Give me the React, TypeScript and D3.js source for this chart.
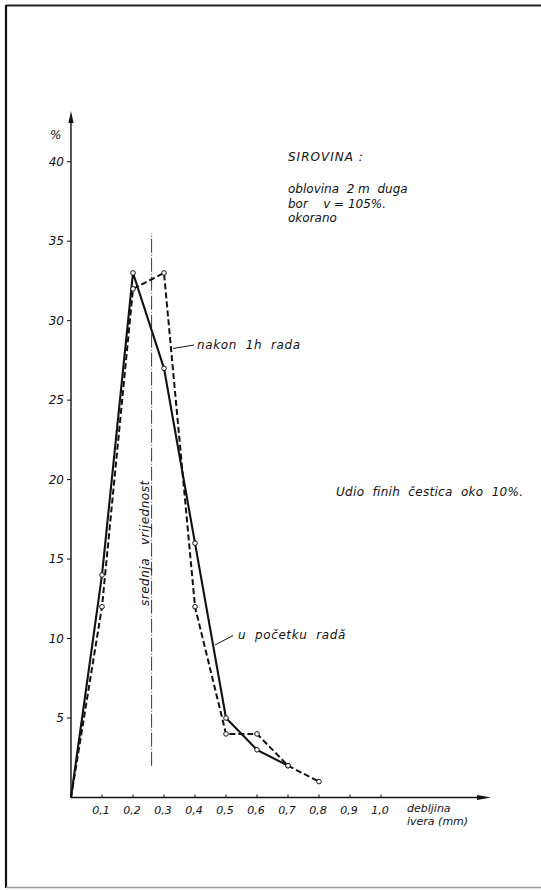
import React from "react";
import * as d3 from "d3";

// debljina ivera (mm) and the share (%) of each fraction
const startThickness = [0, 0.1, 0.2, 0.3, 0.4, 0.5, 0.6, 0.7];
const startShare = [0, 14, 33, 27, 16, 5, 3, 2]; // u početku rada (solid)
const afterThickness = [0, 0.1, 0.2, 0.3, 0.4, 0.5, 0.6, 0.7, 0.8];
const afterShare = [0, 12, 32, 33, 12, 4, 4, 2, 1]; // nakon 1h rada (dashed)

const xTicks = [0.1, 0.2, 0.3, 0.4, 0.5, 0.6, 0.7, 0.8, 0.9, 1.0];
const xTickLabels = ["0,1", "0,2", "0,3", "0,4", "0,5", "0,6", "0,7", "0,8", "0,9", "1,0"];
const yTicks = [5, 10, 15, 20, 25, 30, 35, 40];

const meanThickness = 0.26;
const meanRange = [2, 35.5];

const infoLines = ["oblovina  2 m  duga", "bor    v = 105%.", "okorano"];

const W = 541;
const H = 890;
const font = "'DejaVu Sans', sans-serif";

export default function App() {
  const x = d3.scaleLinear().domain([0, 1]).range([71, 381]);
  const y = d3.scaleLinear().domain([0, 40]).range([797.5, 161.7]);

  const line = d3
    .line<[number, number]>()
    .x((d) => x(d[0]))
    .y((d) => y(d[1]));

  const startPts = startThickness.map((t, i) => [t, startShare[i]] as [number, number]);
  const afterPts = afterThickness.map((t, i) => [t, afterShare[i]] as [number, number]);

  const x0 = x(0);
  const y0 = y(0);
  const yTop = 111;
  const xEnd = 491;

  const txt = {
    fontFamily: font,
    fontStyle: "italic" as const,
    fill: "#111",
    whiteSpace: "pre" as const,
  };

  return (
    <svg
      width={W}
      height={H}
      style={{ position: "absolute", left: 0, top: 0, background: "#fff" }}
    >
      {/* frame */}
      <line x1={6} y1={5.5} x2={W} y2={5.5} stroke="#222" strokeWidth={2} />
      <line x1={6} y1={5} x2={6} y2={888} stroke="#111" strokeWidth={2.2} />
      <line x1={6} y1={887.5} x2={W} y2={887.5} stroke="#999" strokeWidth={1.5} />

      {/* axes */}
      <line x1={x0} y1={y0} x2={x0} y2={yTop + 8} stroke="#111" strokeWidth={1.4} />
      <path d={`M${x0},${yTop} L${x0 - 2.6},${yTop + 12} L${x0 + 2.6},${yTop + 12} Z`} fill="#111" />
      <line x1={x0} y1={y0} x2={xEnd - 8} y2={y0} stroke="#111" strokeWidth={1.6} />
      <path d={`M${xEnd},${y0} L${xEnd - 14},${y0 - 2.6} L${xEnd - 14},${y0 + 2.6} Z`} fill="#111" />

      {yTicks.map((t) => (
        <g key={t}>
          <line x1={x0 - 4} x2={x0} y1={y(t)} y2={y(t)} stroke="#111" strokeWidth={1} />
          <text x={64} y={y(t)} dy="0.36em" textAnchor="end" fontSize={12} style={txt}>
            {t}
          </text>
        </g>
      ))}
      <text x={50} y={139} fontSize={12} style={txt}>
        %
      </text>

      {xTicks.map((t, i) => (
        <g key={t}>
          <line x1={x(t)} x2={x(t)} y1={y0} y2={y0 - 3} stroke="#111" strokeWidth={1} />
          <text x={x(t) - 1} y={814} textAnchor="middle" fontSize={11} style={txt}>
            {xTickLabels[i]}
          </text>
        </g>
      ))}
      <text x={407} y={812} fontSize={11} style={txt}>
        debljina
      </text>
      <text x={407} y={825} fontSize={11} style={txt}>
        ivera (mm)
      </text>

      {/* mean line */}
      <line
        x1={x(meanThickness)}
        x2={x(meanThickness)}
        y1={y(meanRange[0])}
        y2={y(meanRange[1])}
        stroke="#222"
        strokeWidth={0.9}
        strokeDasharray="14,2,1,2"
      />
      <text
        transform={`translate(${x(meanThickness) - 3},${y(16)}) rotate(-90)`}
        textAnchor="middle"
        fontSize={12}
        letterSpacing={0.5}
        style={txt}
      >
        {"srednja   vrijednost"}
      </text>

      {/* series */}
      <path d={line(afterPts) ?? ""} fill="none" stroke="#111" strokeWidth={2} strokeDasharray="6,3" />
      <path d={line(startPts) ?? ""} fill="none" stroke="#111" strokeWidth={2.1} />
      {afterPts.slice(1).map((p, i) => (
        <circle key={"a" + i} cx={x(p[0])} cy={y(p[1])} r={2.3} fill="#fff" stroke="#111" strokeWidth={1} />
      ))}
      {startPts.slice(1).map((p, i) => (
        <circle key={"s" + i} cx={x(p[0])} cy={y(p[1])} r={2.3} fill="#fff" stroke="#111" strokeWidth={1} />
      ))}

      {/* labels with leaders */}
      <line x1={173} y1={348.5} x2={194} y2={345} stroke="#111" strokeWidth={1} />
      <text x={197} y={349} fontSize={12} letterSpacing={0.6} style={txt}>
        {"nakon  1h  rada"}
      </text>
      <line x1={215} y1={645} x2={233} y2={635.5} stroke="#111" strokeWidth={1} />
      <text x={238} y={639} fontSize={12} letterSpacing={0.6} style={txt}>
        {"u  početku  radă"}
      </text>

      {/* notes */}
      <text x={288} y={161} fontSize={12} letterSpacing={1} style={txt}>
        SIROVINA :
      </text>
      {infoLines.map((s, i) => (
        <text key={s} x={288} y={193 + i * 14.5} fontSize={12} style={txt}>
          {s}
        </text>
      ))}
      <text x={336} y={496} fontSize={12} letterSpacing={0.3} style={txt}>
        {"Udio  finih  čestica  oko  10%."}
      </text>
    </svg>
  );
}
